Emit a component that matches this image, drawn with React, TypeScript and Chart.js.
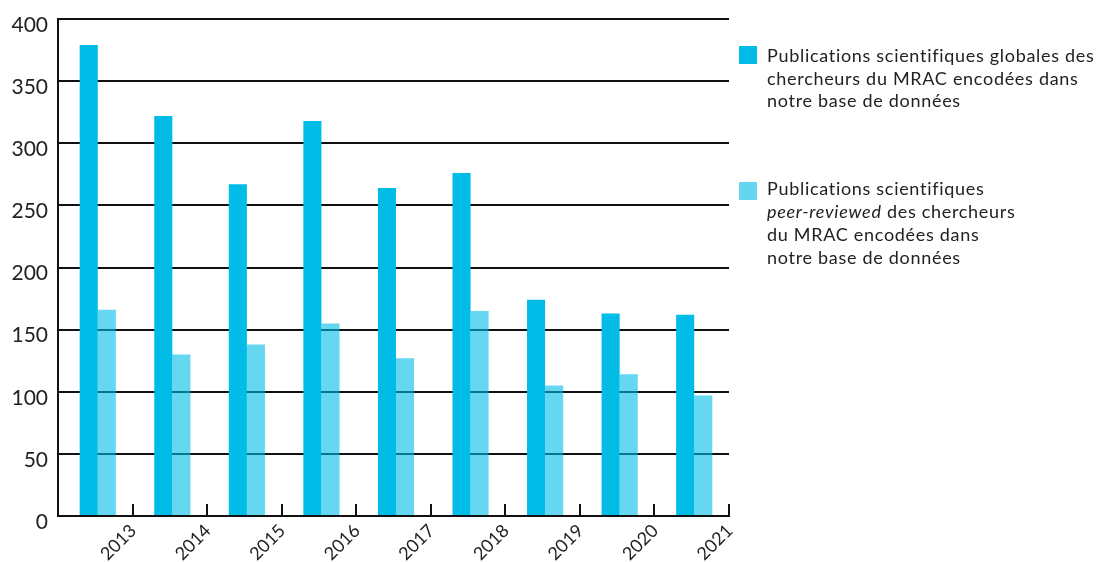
import React, { useEffect, useRef } from "react";
import { Chart, registerables } from "chart.js";

Chart.register(...registerables);

const years = ["2013", "2014", "2015", "2016", "2017", "2018", "2019", "2020", "2021"];
const globalPublications = [379, 322, 267, 318, 264, 276, 174, 163, 162];
const peerReviewedPublications = [166, 130, 138, 155, 127, 165, 105, 114, 97];
const yMin = 0;
const yMax = 400;
const yStep = 50;

const darkColor = "#00BCE6";
const lightColor = "rgba(0, 188, 230, 0.6)";
const lightSwatch = "#66D6F0";
const fontFamily = "Lato, 'Noto Sans', sans-serif";
const textColor = "#222222";

const barShift = {
  id: "barShift",
  beforeDatasetsDraw(chart: any) {
    chart.ctx.save();
    chart.ctx.translate(2.5, 0);
  },
  afterDatasetsDraw(chart: any) {
    chart.ctx.restore();
  },
};

export default function App() {
  const canvasRef = useRef<HTMLCanvasElement | null>(null);

  useEffect(() => {
    const canvas = canvasRef.current;
    if (!canvas) return;
    const chart = new Chart(canvas, {
      type: "bar",
      data: {
        labels: years,
        datasets: [
          {
            label: "Publications scientifiques globales",
            data: globalPublications,
            backgroundColor: darkColor,
            barPercentage: 1,
            categoryPercentage: 0.485,
          },
          {
            label: "Publications scientifiques peer-reviewed",
            data: peerReviewedPublications,
            backgroundColor: lightColor,
            barPercentage: 1,
            categoryPercentage: 0.485,
          },
        ],
      },
      plugins: [barShift],
      options: {
        animation: false,
        responsive: false,
        maintainAspectRatio: false,
        layout: { padding: { top: 19, right: 367, left: 0, bottom: 0 } },
        plugins: { legend: { display: false }, tooltip: { enabled: false } },
        scales: {
          x: {
            grid: {
              offset: true,
              drawOnChartArea: false,
              drawTicks: true,
              tickLength: -12,
              color: "#111111",
              lineWidth: 2,
            },
            border: { display: true, color: "#111111", width: 2 },
            ticks: {
              minRotation: 45,
              maxRotation: 45,
              labelOffset: 38,
              padding: 16,
              autoSkip: false,
              color: textColor,
              font: { family: fontFamily, size: 18 },
            },
            afterFit: (scale: any) => {
              scale.height = 46;
            },
          },
          y: {
            min: yMin,
            max: yMax,
            ticks: {
              stepSize: yStep,
              padding: 10,
              labelOffset: 6,
              color: textColor,
              font: { family: fontFamily, size: 21 },
            },
            grid: { color: "#111111", lineWidth: 2, drawTicks: false },
            border: { display: true, color: "#111111", width: 2 },
            afterFit: (scale: any) => {
              scale.width = 58;
              scale.paddingTop = 0;
              scale.paddingBottom = 0;
            },
          },
        },
      },
    });
    return () => chart.destroy();
  }, []);

  const legendText: React.CSSProperties = {
    position: "absolute",
    left: 767,
    fontFamily,
    fontSize: 18,
    letterSpacing: "0.7px",
    color: textColor,
    whiteSpace: "nowrap",
  };

  return (
    <div style={{ position: "absolute", left: 0, top: 0, width: 1096, height: 562, background: "#fff" }}>
      <canvas ref={canvasRef} width={1096} height={562} style={{ display: "block" }} />
      <div style={{ position: "absolute", left: 739, top: 46, width: 18, height: 18, background: darkColor }} />
      <div style={{ ...legendText, top: 44, lineHeight: "22.5px" }}>
        Publications scientifiques globales des
        <br />
        chercheurs du MRAC encodées dans
        <br />
        notre base de données
      </div>
      <div style={{ position: "absolute", left: 739, top: 182, width: 18, height: 18, background: lightSwatch }} />
      <div style={{ ...legendText, top: 177, lineHeight: "23px" }}>
        Publications scientifiques
        <br />
        <i>peer-reviewed</i> des chercheurs
        <br />
        du MRAC encodées dans
        <br />
        notre base de données
      </div>
    </div>
  );
}
